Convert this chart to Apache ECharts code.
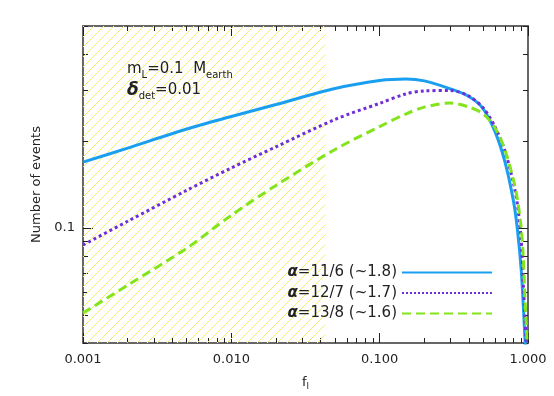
<!DOCTYPE html>
<html>
<head>
<meta charset="utf-8">
<script src="https://cdn.jsdelivr.net/npm/echarts@6/dist/echarts.min.js"></script>
<style>html,body{margin:0;padding:0;background:#fff}#c{width:554px;height:396px}</style>
</head>
<body>
<div id="c"></div>
<script>
var fVals = [0.001,0.002,0.005,0.01,0.02,0.05,0.1,0.15,0.2,0.3,0.4,0.5,0.6,0.7,0.8,0.85,0.9,0.93,0.95,0.97,0.98,0.99];
var nBlue = [0.169,0.189,0.220,0.243,0.2675,0.304,0.324,0.328,0.323,0.303,0.285,0.258,0.215,0.169,0.123,0.098,0.0716,0.0537,0.043,0.035,0.03,0.025];
var nPurple = [0.0873,0.1055,0.135,0.1614,0.191,0.2375,0.270,0.291,0.298,0.299,0.286,0.260,0.2236,0.1846,0.142,0.120,0.0909,0.0636,0.0512,0.041,0.036,0.03];
var nGreen = [0.0508,0.0634,0.0851,0.1107,0.1404,0.187,0.2244,0.248,0.262,0.2707,0.262,0.248,0.222,0.186,0.1458,0.125,0.1,0.079,0.0598,0.048,0.043,0.038];
var seriesNames = ['α=11/6 (~1.8)','α=12/7 (~1.7)','α=13/8 (~1.6)'];
var xRange = [0.001, 1];
var yRange = [0.04, 0.5];
var xMajor = [0.001,0.01,0.1,1];
var xMinor = [0.002,0.003,0.004,0.005,0.006,0.007,0.008,0.009,0.02,0.03,0.04,0.05,0.06,0.07,0.08,0.09,0.2,0.3,0.4,0.5,0.6,0.7,0.8,0.9];
var yMajor = [0.1];
var yMinor = [0.04,0.05,0.06,0.07,0.08,0.09,0.2,0.3,0.4,0.5];
var hatchRange = [0.001, 0.043];

// log10 axes: values are transformed, labels shown back in linear units
var L = function(v){ return Math.log10(v); };
function pairs(xs, ys){ return xs.map(function(x,i){ return [L(x), L(ys[i])]; }); }

// diagonal hatch tile
var pat = document.createElement('canvas');
pat.width = 10; pat.height = 10;
var g = pat.getContext('2d');
g.fillStyle = '#f6ee72';
for (var i = 0; i < 10; i++) { g.fillRect(i, 9 - i, 1, 1); }

var FONT = 'DejaVu Sans';
var axisLine = {show:true, onZero:false, lineStyle:{color:'#666', width:2}};
function xAx(pos, major, showLine){
  return {
    type:'value', min:L(xRange[0]), max:L(xRange[1]), position:pos, gridIndex:0,
    axisLine: showLine ? axisLine : {show:false, onZero:false},
    axisTick:{show:true, inside:false, length: major?-10:-5, lineStyle:{color:'#222', width:1}, customValues: (major?xMajor:xMinor).map(L)},
    axisLabel:{show: (pos==='bottom' && major), customValues: xMajor.map(L), color:'#222', fontFamily:FONT, fontSize:13, margin:10,
      formatter:function(v){ return Math.pow(10, v).toFixed(3); }},
    splitLine:{show:false}, minorTick:{show:false},
    name: (pos==='bottom' && major) ? '{f|f}{s|l}' : '',
    nameLocation:'middle', nameGap:32,
    nameTextStyle:{rich:{f:{fontFamily:FONT, fontSize:13, color:'#222', lineHeight:16}, s:{fontFamily:FONT, fontSize:9, color:'#222', verticalAlign:'bottom', lineHeight:14}}}
  };
}
function yAx(pos, major, showLine){
  return {
    type:'value', min:L(yRange[0]), max:L(yRange[1]), position:pos, gridIndex:0,
    axisLine: showLine ? axisLine : {show:false, onZero:false},
    axisTick:{show:true, inside:true, length: major?10:5, lineStyle:{color:'#222', width:1}, customValues: (major?yMajor:yMinor).map(L)},
    axisLabel:{show: (pos==='left' && major), customValues: yMajor.map(L), color:'#222', fontFamily:FONT, fontSize:13, margin:8,
      formatter:function(v){ return String(+Math.pow(10, v).toPrecision(3)); }},
    splitLine:{show:false}, minorTick:{show:false},
    name: (pos==='left' && major) ? 'Number of events' : '',
    nameLocation:'middle', nameGap:35,
    nameTextStyle:{fontFamily:FONT, fontSize:13, color:'#222'}
  };
}

var option = {
  animation:false,
  backgroundColor:'#fff',
  grid:{left:83, right:26, top:26, bottom:53, containLabel:false},
  xAxis:[xAx('bottom',true,true), xAx('bottom',false,false), xAx('top',true,true), xAx('top',false,false)],
  yAxis:[yAx('left',true,true), yAx('left',false,false), yAx('right',true,true), yAx('right',false,false)],
  legend:{
    data: seriesNames, orient:'vertical', right:56, top:260, align:'right',
    itemWidth:90, itemHeight:14, itemGap:5.5,
    itemStyle:{opacity:0, borderWidth:0},
    textStyle:{fontFamily:FONT, fontSize:15, color:'#222',
      rich:{a:{fontFamily:FONT, fontSize:15, color:'#222', fontWeight:'bold', fontStyle:'italic'}}},
    formatter:function(n){ return '{a|α}' + n.slice(1); },
    selectedMode:false
  },
  graphic:[{
    type:'text', left:127, top:62, z:10,
    style:{text:'{m|m}{s|L}{m|=0.1  M}{s|earth}\n{d|δ}{s|det}{m|=0.01}',
      rich:{
        m:{fontFamily:FONT, fontSize:15, fill:'#222', lineHeight:21},
        s:{fontFamily:FONT, fontSize:10, fill:'#222', verticalAlign:'bottom', lineHeight:17},
        d:{fontFamily:FONT, fontSize:17, fill:'#222', fontWeight:'bold', fontStyle:'italic', lineHeight:21}
      }}
  }],
  series:[
    {name:'hatch', type:'line', silent:true, symbol:'none', showSymbol:false, z:1,
     data:[[L(hatchRange[0]), L(yRange[1])],[L(hatchRange[1]), L(yRange[1])]],
     lineStyle:{width:0, opacity:0},
     areaStyle:{color:{image:pat, repeat:'repeat'}, opacity:1, origin:'start'}},
    {name:seriesNames[0], type:'line', data:pairs(fVals,nBlue), showSymbol:false, symbol:'none', smooth:0.3, clip:true,
     lineStyle:{color:'#1a9ff0', width:3, type:'solid'}, itemStyle:{color:'#1a9ff0'}, z:3},
    {name:seriesNames[1], type:'line', data:pairs(fVals,nPurple), showSymbol:false, symbol:'none', smooth:0.3, clip:true,
     lineStyle:{color:'#6f2ed6', width:3, type:'dotted'}, itemStyle:{color:'#6f2ed6'}, z:4},
    {name:seriesNames[2], type:'line', data:pairs(fVals,nGreen), showSymbol:false, symbol:'none', smooth:0.3, clip:true,
     lineStyle:{color:'#84e41c', width:3, type:[9,5]}, itemStyle:{color:'#84e41c'}, z:5}
  ]
};
var chart = echarts.init(document.getElementById('c'), null, {renderer:'canvas'});
chart.setOption(option);
</script>
</body>
</html>
